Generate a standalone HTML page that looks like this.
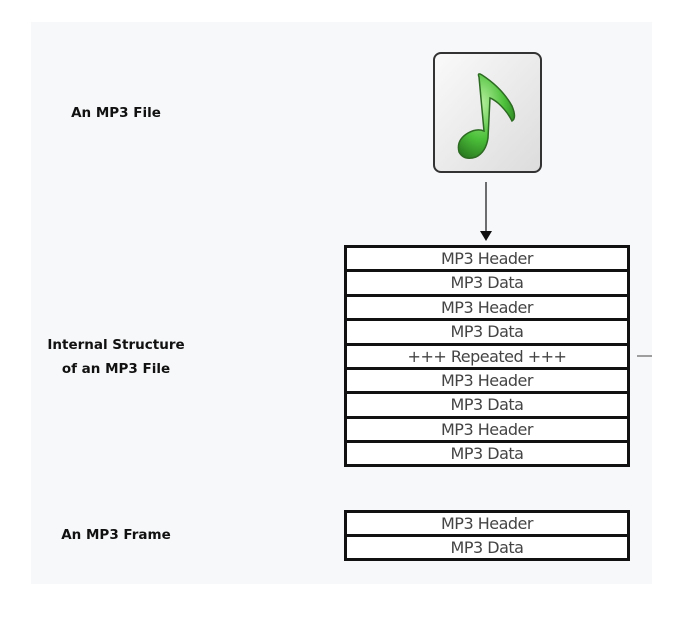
<!DOCTYPE html>
<html><head><style>
body{margin:0;width:688px;height:618px;background:#fff;position:relative;font-family:"Liberation Sans",sans-serif;overflow:hidden}
.panel{position:absolute;left:31px;top:22px;width:621px;height:562px;background:#f7f8f9}
.lbl{position:absolute;font-weight:bold;font-size:13.5px;color:#111;text-align:center;line-height:24px;font-family:"DejaVu Sans",sans-serif}
.stack{position:absolute;left:344px;width:286px;border:3px solid #111;box-sizing:border-box;background:#fff}
.stack div{height:24.4px;line-height:22px;border-bottom:3px solid #111;box-sizing:border-box;text-align:center;font-size:16px;color:#444;font-family:"DejaVu Sans",sans-serif;letter-spacing:-0.5px}
.stack div:last-child{border-bottom:none}
</style></head><body>
<div class="panel"></div>
<div class="lbl" style="left:36px;top:101px;width:160px">An MP3 File</div>
<div class="lbl" style="left:26px;top:333px;width:180px">Internal Structure<br>of an MP3 File</div>
<div class="lbl" style="left:36px;top:523px;width:160px">An MP3 Frame</div>
<svg style="position:absolute;left:0;top:0" width="688" height="618">
<defs><linearGradient id="g" x1="0" y1="0" x2="1" y2="1"><stop offset="0" stop-color="#fafafa"/><stop offset="1" stop-color="#dcdcdc"/></linearGradient>
<radialGradient id="n" cx="0.4" cy="0.35" r="0.7"><stop offset="0" stop-color="#b8f0a0"/><stop offset="0.6" stop-color="#4cc03a"/><stop offset="1" stop-color="#2a7a20"/></radialGradient></defs>
<rect x="434" y="53" width="107" height="119" rx="7" fill="url(#g)" stroke="#333" stroke-width="2"/>
<path d="M479 77 Q477 72 482 75 Q502 88 512 106 Q517 118 512 121 Q507 111 498 103 Q493 99 490 98 L488 138 Q486 152 476 157 Q464 161 459 152 Q456 140 468 133 Q477 128 484 131 Z" fill="url(#n)" stroke="#2d6a22" stroke-width="1.5"/>
<line x1="486" y1="182" x2="486" y2="232" stroke="#222" stroke-width="1.3"/>
<polygon points="480,231 492,231 486,241" fill="#111"/>
<line x1="637" y1="356" x2="652" y2="356" stroke="#444" stroke-width="1"/>
</svg>
<div class="stack" style="top:245px;height:222px">
<div>MP3 Header</div><div>MP3 Data</div><div>MP3 Header</div><div>MP3 Data</div><div>+++ Repeated +++</div><div>MP3 Header</div><div>MP3 Data</div><div>MP3 Header</div><div>MP3 Data</div>
</div>
<div class="stack" style="top:510px;height:51px">
<div>MP3 Header</div><div>MP3 Data</div>
</div>
</body></html>
